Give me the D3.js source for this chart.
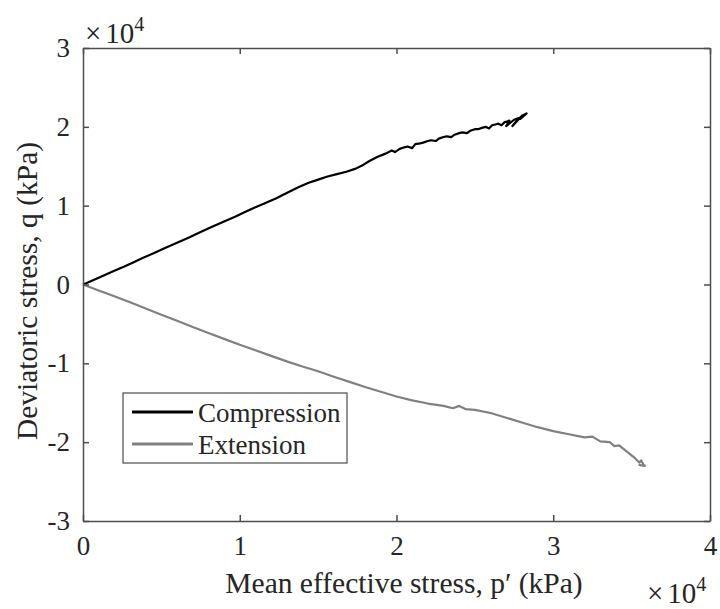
<!DOCTYPE html>
<html>
<head>
<meta charset="utf-8">
<script src="https://cdn.jsdelivr.net/npm/d3@7/dist/d3.min.js"></script>
<style>
  html, body { margin: 0; padding: 0; background: #fff; }
  svg { display: block; }
  text { font-family: "Liberation Serif", "Times New Roman", serif; fill: #262626; }
</style>
</head>
<body>
<svg id="chart" width="720" height="609"></svg>
<script>
// Stress path: compression branch (p', q) in kPa
const compP = [0, 200, 600, 1000, 1500, 2000, 2600, 3200, 3800, 4500, 5200, 6000, 6800, 7500, 8200, 9000,
  9700, 10400, 11000, 11600, 12300, 13000, 13700, 14400, 15000, 15600, 16200, 16800, 17400, 17900, 18300,
  18800, 19300, 19700, 19900, 20200, 20500, 20700, 21000, 21200, 21500, 21700, 22000, 22200, 22500, 22700,
  23000, 23200, 23500, 23700, 24000, 24200, 24500, 24700, 25000, 25200, 25500, 25700, 25900, 26100, 26300,
  26500, 26700, 26900, 27100, 27200, 27000, 27500, 27800, 27400, 28000, 28300, 27900, 28200];
const compQ = [0, 150, 500, 850, 1300, 1750, 2250, 2800, 3350, 3950, 4600, 5300, 6000, 6650, 7300, 8000,
  8600, 9250, 9800, 10300, 10900, 11600, 12300, 12900, 13300, 13700, 14000, 14300, 14700, 15200, 15700,
  16200, 16600, 17000, 16800, 17200, 17400, 17500, 17300, 17800, 17900, 18000, 18200, 18300, 18200, 18500,
  18700, 18800, 18700, 19000, 19200, 19300, 19200, 19500, 19700, 19700, 19900, 20000, 19800, 20200, 20300,
  20400, 20200, 20600, 20700, 20800, 20100, 20900, 21100, 20100, 21400, 21700, 21000, 21600];

// Stress path: extension branch (p', q) in kPa
const extP = [0, 1000, 2000, 3000, 4000, 5000, 6000, 7000, 8000, 9000, 10000, 11000, 12000, 13000, 14000,
  15000, 16000, 17000, 18000, 19000, 20000, 21000, 22000, 23000, 23600, 24000, 24400, 25000, 26000, 27000,
  28000, 29000, 30000, 31000, 32000, 32500, 33000, 33600, 33900, 34200, 34700, 35200, 35500, 35600, 35800,
  35500, 35900];
const extQ = [0, -750, -1500, -2250, -3050, -3850, -4600, -5400, -6150, -6900, -7650, -8350, -9050, -9750,
  -10400, -11000, -11700, -12350, -13000, -13600, -14200, -14700, -15100, -15400, -15700, -15400, -15800,
  -15900, -16300, -16900, -17500, -18100, -18600, -19000, -19400, -19300, -19900, -20000, -20500, -20400,
  -21200, -22000, -22600, -22300, -23000, -22900, -23000];

const xTicks = [0, 10000, 20000, 30000, 40000];
const yTicks = [-30000, -20000, -10000, 0, 10000, 20000, 30000];
const seriesNames = ["Compression", "Extension"];
const seriesColors = ["#000000", "#808080"];

const svg = d3.select("#chart");
const margin = { left: 83, right: 10, top: 48, bottom: 88 };
const W = 720, H = 609;
const x = d3.scaleLinear().domain([0, 40000]).range([margin.left, W - margin.right]);
const y = d3.scaleLinear().domain([-30000, 30000]).range([H - margin.bottom, margin.top]);
const axisColor = "#4d4d4d";
const tickLen = 6;
const tickFont = 27;
const labelFont = 29.5;

// Data lines
const line = d3.line().x((d) => x(d[0])).y((d) => y(d[1]));
const series = [d3.zip(compP, compQ), d3.zip(extP, extQ)];
svg.selectAll("path.series").data(series).join("path")
  .attr("class", "series")
  .attr("d", line)
  .attr("fill", "none")
  .attr("stroke", (d, i) => seriesColors[i])
  .attr("stroke-width", 2.2)
  .attr("stroke-linejoin", "round");

// Axes with inward ticks on all four sides
const fmt = (v) => String(v / 10000);
const axBottom = svg.append("g").attr("transform", `translate(0,${y(-30000)})`)
  .call(d3.axisBottom(x).tickValues(xTicks).tickFormat(fmt).tickSizeInner(-tickLen).tickSizeOuter(0).tickPadding(15));
const axTop = svg.append("g").attr("transform", `translate(0,${y(30000)})`)
  .call(d3.axisTop(x).tickValues(xTicks).tickFormat("").tickSizeInner(-tickLen).tickSizeOuter(0));
const axLeft = svg.append("g").attr("transform", `translate(${x(0)},0)`)
  .call(d3.axisLeft(y).tickValues(yTicks).tickFormat(fmt).tickSizeInner(-tickLen).tickSizeOuter(0).tickPadding(13));
const axRight = svg.append("g").attr("transform", `translate(${x(40000)},0)`)
  .call(d3.axisRight(y).tickValues(yTicks).tickFormat("").tickSizeInner(-tickLen).tickSizeOuter(0));

[axBottom, axTop, axLeft, axRight].forEach((g) => {
  g.select(".domain").attr("stroke", axisColor).attr("stroke-width", 1.5);
  g.selectAll(".tick line").attr("stroke", axisColor).attr("stroke-width", 1.5);
  g.selectAll(".tick text").attr("font-size", tickFont).attr("font-family", "Liberation Serif").attr("fill", "#262626");
});

// Exponent labels (×10⁴ multiplier)
function exponent(px, py) {
  const t = svg.append("text").attr("x", px).attr("y", py).attr("font-size", 29);
  t.append("tspan").text("×");
  t.append("tspan").attr("dx", 4).text("10");
  t.append("tspan").attr("font-size", 20).attr("dy", -12).text("4");
}
exponent(85, 43);
exponent(647, 603);

// Axis titles
svg.append("text")
  .attr("x", 404).attr("y", 593)
  .attr("text-anchor", "middle").attr("font-size", labelFont)
  .text("Mean effective stress, p′ (kPa)");
svg.append("text")
  .attr("transform", "translate(37,291) rotate(-90)")
  .attr("text-anchor", "middle").attr("font-size", labelFont)
  .text("Deviatoric stress, q (kPa)");

// Legend
const lg = svg.append("g").attr("transform", "translate(123,393)");
lg.append("rect").attr("width", 224).attr("height", 70)
  .attr("fill", "#fff").attr("stroke", axisColor).attr("stroke-width", 1.2);
seriesNames.forEach((name, i) => {
  const cy = 19 + i * 32;
  lg.append("line").attr("x1", 9).attr("x2", 70).attr("y1", cy).attr("y2", cy)
    .attr("stroke", seriesColors[i]).attr("stroke-width", 3);
  lg.append("text").attr("x", 75).attr("y", cy + 10).attr("font-size", tickFont).text(name);
});
</script>
</body>
</html>
